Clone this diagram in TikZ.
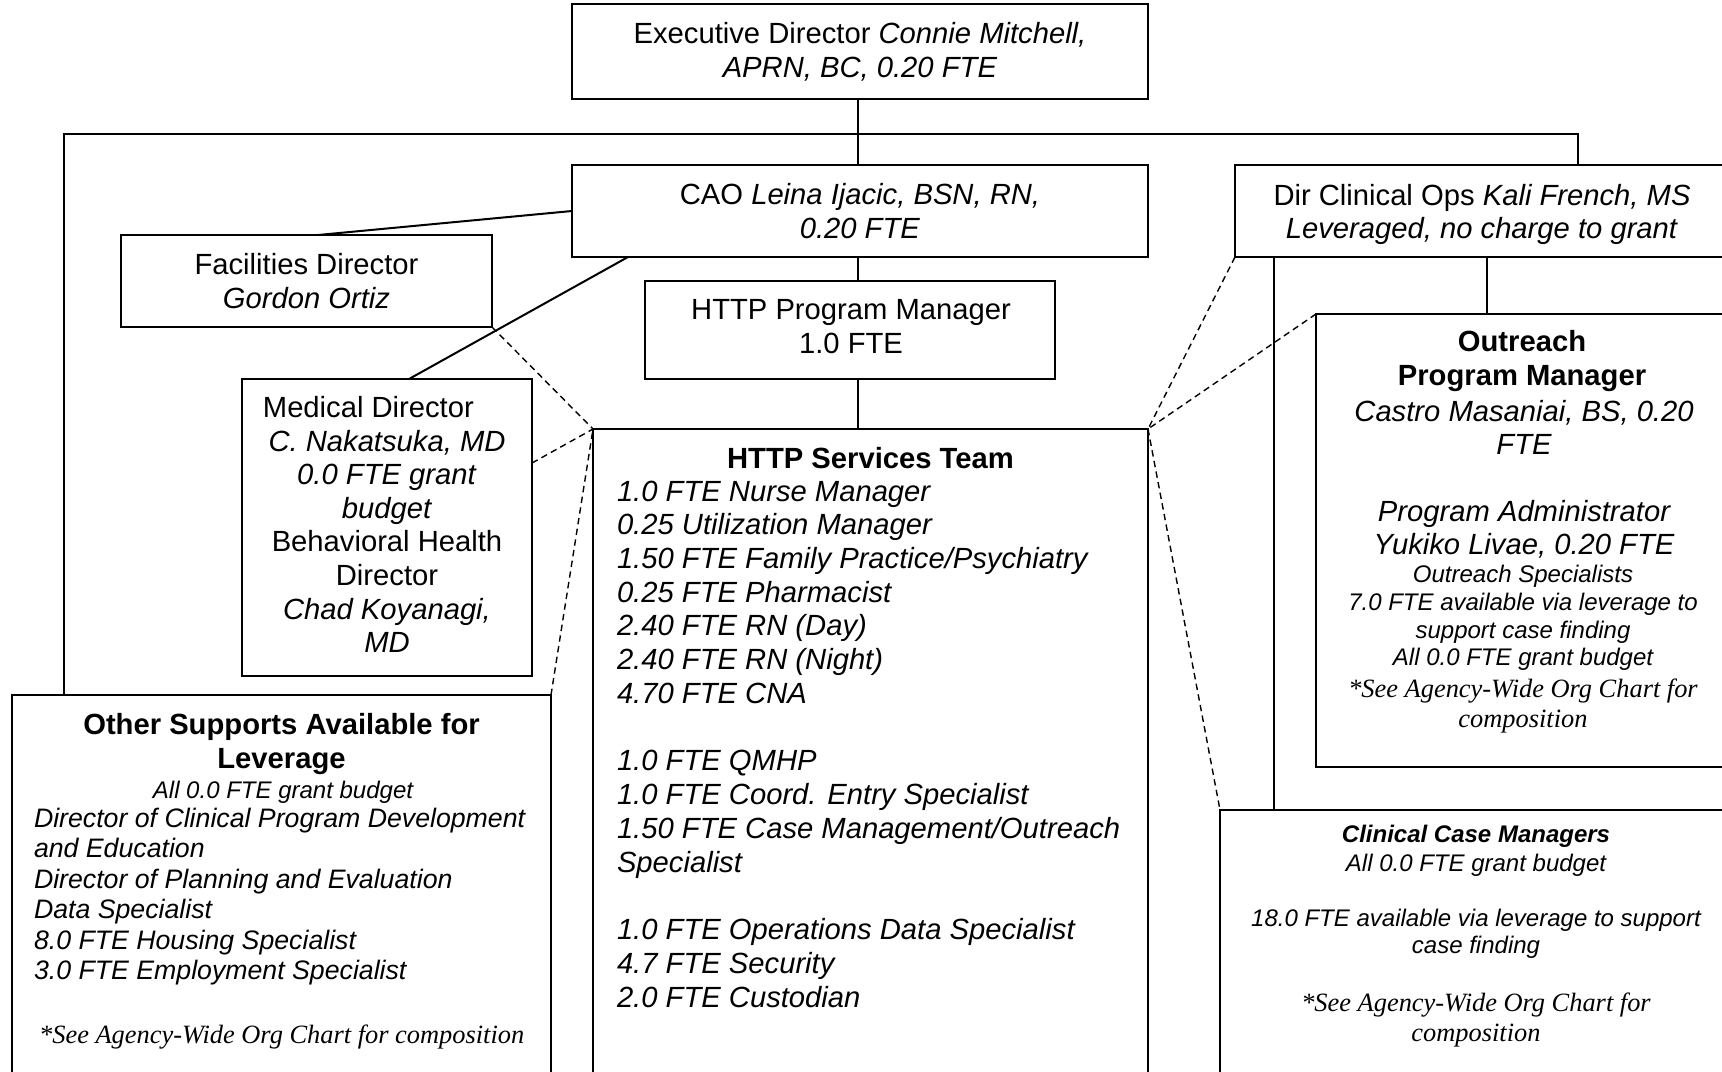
\documentclass[tikz,border=0pt]{standalone}
\usepackage{fontspec}
\setmainfont{Liberation Sans}
\newfontfamily\seriffam{Liberation Serif}
\usetikzlibrary{calc}
% font sizes used in the chart
\newcommand\mainsz{\fontsize{14.6}{16.8}\selectfont}
\newcommand\smallsz{\fontsize{12}{13.9}\selectfont}
\newcommand\notesz{\seriffam\itshape\fontsize{13.2}{15.35}\selectfont}
\begin{document}
\begin{tikzpicture}[x=0.5pt,y=-0.5pt,
  box/.style={draw, line width=1pt, inner sep=0pt, outer sep=0pt, align=center, font=\mainsz},
  txt/.style={inner sep=0pt, outer sep=0pt, align=center},
  link/.style={line width=1pt},
  dlink/.style={line width=0.7pt, dash pattern=on 3.2pt off 2.2pt},
]
\clip (0,0) rectangle (1722,1071);

% ---- boxes ----
\node[box, minimum width=288pt, minimum height=47.5pt] (exec) at (860,51.5)
  {Executive Director \textit{Connie Mitchell,}\\\textit{APRN, BC, 0.20 FTE}};
\node[box, minimum width=288pt, minimum height=46pt] (cao) at (860,211)
  {CAO \textit{Leina Ijacic, BSN, RN,}\\\textit{0.20 FTE}};
\node[box, minimum width=247pt, minimum height=46pt] (dir) at (1482,211) {};
\node[txt, font=\mainsz] (dirT) at (1482,214.5)
  {Dir Clinical Ops \textit{Kali French, MS}\\\textit{Leveraged, no charge to grant}};
\node[box, minimum width=185.5pt, minimum height=46pt] (fac) at (306.5,281)
  {Facilities Director\\\textit{Gordon Ortiz}};
\node[box, minimum width=205pt, minimum height=49pt] (pm) at (850,330) {};
\node[txt, font=\mainsz] (pmT) at (851,326.5) {HTTP Program Manager\\1.0 FTE};
\node[box, minimum width=145pt, minimum height=148.5pt] (med) at (387,527.5) {};
\node[txt, font=\mainsz] (medT) at (387,524.5)
  {Medical Director\hspace*{18.6pt}\\\textit{C. Nakatsuka, MD}\\\textit{0.0 FTE grant}\\\textit{budget}\\Behavioral Health\\Director\\\textit{Chad Koyanagi,}\\\textit{MD}};
\node[box, minimum width=277.5pt, minimum height=330.5pt] (svc) at (870.5,759.5) {};
\node[box, minimum width=269.5pt, minimum height=197.5pt] (oth) at (281.5,892.5) {};
\node[box, minimum width=207pt, minimum height=226.5pt] (out) at (1523,540.5) {};
\node[box, minimum width=255pt, minimum height=140pt] (ccm) at (1475,950) {};

% ---- HTTP Services Team ----
\node[txt, font=\mainsz\bfseries] (svcT) at (870.5,458) {HTTP Services Team};
\node[txt, align=left, anchor=west, font=\itshape\fontsize{14.6}{16.87}\selectfont] (svcL) at (617,744)
  {1.0 FTE Nurse Manager\\0.25 Utilization Manager\\1.50 FTE Family Practice/Psychiatry\\0.25 FTE Pharmacist\\2.40 FTE RN (Day)\\2.40 FTE RN (Night)\\4.70 FTE CNA\\[16.87pt]
   1.0 FTE QMHP\\1.0 FTE Coord. Entry Specialist\\1.50 FTE Case Management/Outreach\\Specialist\\[16.87pt]
   1.0 FTE Operations Data Specialist\\4.7 FTE Security\\2.0 FTE Custodian};

% ---- Other Supports ----
\node[txt, font=\bfseries\fontsize{14.6}{17}\selectfont] (othT) at (281.5,744) {Other Supports Available for\\Leverage};
\node[txt, font=\smallsz\itshape] (othA) at (283,792) {All 0.0 FTE grant budget};
\node[txt, align=left, anchor=west, font=\itshape\fontsize{13.35}{15.25}\selectfont] (othL) at (34,896.5)
  {Director of Clinical Program Development\\and Education\\Director of Planning and Evaluation\\Data Specialist\\8.0 FTE Housing Specialist\\3.0 FTE Employment Specialist};
\node[txt, font=\notesz] (othN) at (281.7,1037) {*See Agency-Wide Org Chart for composition};

% ---- Outreach Program Manager ----
\node[txt, font=\bfseries\fontsize{14.6}{17}\selectfont] (outA) at (1522,361.5) {Outreach\\Program Manager};
\node[txt, font=\itshape\fontsize{14.6}{16.5}\selectfont] (outB) at (1524,427) {Castro Masaniai, BS, 0.20\\FTE};
\node[txt, font=\itshape\fontsize{14.6}{16.5}\selectfont] (outC) at (1524,529) {Program Administrator\\Yukiko Livae, 0.20 FTE};
\node[txt, font=\smallsz\itshape] (outD) at (1523,618)
  {Outreach Specialists\\7.0 FTE available via leverage to\\support case finding\\All 0.0 FTE grant budget};
\node[txt, font=\notesz] (outE) at (1523,706) {*See Agency-Wide Org Chart for\\composition};

% ---- Clinical Case Managers ----
\node[txt, font=\smallsz\bfseries\itshape] (ccmA) at (1476,836.5) {Clinical Case Managers};
\node[txt, font=\smallsz\itshape] (ccmB) at (1476,865) {All 0.0 FTE grant budget};
\node[txt, font=\itshape\fontsize{12}{13.75}\selectfont] (ccmC) at (1476,934) {18.0 FTE available via leverage to support\\case finding};
\node[txt, font=\notesz] (ccmD) at (1476,1020) {*See Agency-Wide Org Chart for\\composition};

% ---- reporting lines ----
\coordinate (bus) at (858,134);
\coordinate (busL) at (64,134);
\coordinate (busR) at (1578,134);
\coordinate (colA) at (1274,0);
\coordinate (colB) at (1487,0);

\draw[link] (exec.south -| bus) -- (cao.north -| bus);
\draw[link] (cao.south -| bus) -- (pm.north -| bus);
\draw[link] (pm.south -| bus) -- (svc.north -| bus);
\draw[link] (busL |- oth.north) -- (busL) -- (busR) -- (busR |- dir.north);
\draw[link] (cao.west) -- ($(fac.north)+(11.5,0)$);
\draw[link] ($(cao.south west)+(56,0)$) -- ($(med.north west)+(167,0)$);
\draw[link] (dir.south -| colA) -- (ccm.north -| colA);
\draw[link] (dir.south -| colB) -- (out.north -| colB);

% ---- dotted-line relationships ----
\draw[dlink] (fac.south east) -- (svc.north west);
\draw[dlink] ($(med.north east)+(0,84)$) -- (svc.north west);
\draw[dlink] (oth.north east) -- (svc.north west);
\draw[dlink] (dir.south west) -- (svc.north east);
\draw[dlink] (out.north west) -- (svc.north east);
\draw[dlink] (svc.north east) -- (ccm.north west);
\end{tikzpicture}
\end{document}
